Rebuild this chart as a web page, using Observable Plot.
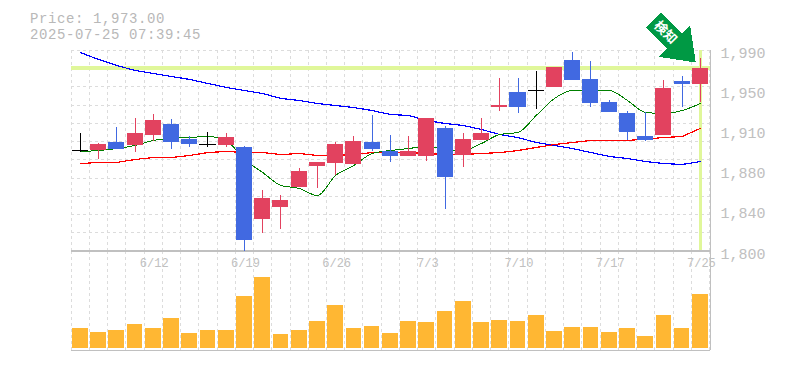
<!DOCTYPE html>
<html>
<head>
<meta charset="utf-8">
<script src="https://cdn.jsdelivr.net/npm/d3@7"></script>
<script src="https://cdn.jsdelivr.net/npm/@observablehq/plot@0.6"></script>
<style>
  html,body{margin:0;padding:0;background:#fff;}
  #chart{position:relative;width:785px;height:370px;overflow:hidden;}
  #chart svg{position:absolute;left:0;top:0;shape-rendering:crispEdges;}
  #chart svg text{shape-rendering:auto;}
  .hd{position:absolute;left:30px;font:14px/16px "Liberation Mono",monospace;letter-spacing:.6px;color:#b8b8b8;white-space:pre;}
  g[aria-label="date label"] text{letter-spacing:-1.2px;}
</style>
</head>
<body>
<div id="chart">
  <div class="hd" style="top:11px">Price: 1,973.00</div>
  <div class="hd" style="top:27px">2025-07-25 07:39:45</div>
</div>
<script>
const dates = ["6/6","6/9","6/10","6/11","6/12","6/13","6/16","6/17","6/18","6/19","6/20","6/23","6/24","6/25","6/26","6/27","6/30","7/1","7/2","7/3","7/4","7/7","7/8","7/9","7/10","7/11","7/14","7/15","7/16","7/17","7/18","7/22","7/23","7/24","7/25"];
const open  = [1895,1895,1903,1900,1910,1920,1906,1901,1900,1898,1830,1841,1860,1880,1883,1882,1903,1894,1890,1890,1916,1891,1905,1936,1950,1952,1955,1980.5,1963,1941,1930,1909,1910,1961,1958];
const close = [1895,1901,1896,1911,1924,1903,1901,1901,1908,1810,1850,1848,1875,1884,1901,1904,1896,1890,1894,1926,1870,1906,1911,1938,1936,1952,1974,1962,1940,1931,1912,1905,1954,1958,1973];
const high  = [1911,1902,1917,1926,1929,1925,1909,1912,1911,1899,1857,1853,1878,1884,1903,1909,1928,1910,1909,1926,1918,1911,1926,1963.5,1963.5,1970,1974,1988,1980,1943,1932,1931,1962,1965,1982];
const low   = [1893,1887,1896,1893,1904,1896,1898,1898,1898,1800,1817,1821,1860,1859,1872,1882,1894,1884,1890,1885,1839.5,1879,1905,1932,1930,1934,1955,1962,1936,1931,1905,1904,1910,1936,1941];
const maShort = [1894.4,1895.3,1897.2,1900.1,1904.8,1906.7,1907.6,1908.6,1904.8,1886.8,1874.5,1862.2,1859.4,1852.7,1871.7,1881.1,1892.5,1895.3,1897.2,1899.1,1896.3,1895.3,1902,1910.5,1912.4,1928.5,1944.6,1952.1,1952.1,1952.1,1942.7,1931.3,1930.4,1933.2,1939.8];
const maMid   = [1883,1884,1884,1886.8,1888.7,1888.7,1890.6,1893.4,1894.4,1893.4,1893.4,1891.5,1892.5,1890.6,1890.6,1891.5,1893.4,1893.4,1893.4,1892.5,1891.5,1891.5,1892.5,1893.4,1895.3,1898.2,1901,1902.9,1904.8,1904.8,1904.8,1906.2,1907.6,1908.6,1916.2];
const maLong  = [1988.1,1981.5,1975.8,1971.1,1968.2,1965.4,1962.6,1958.8,1955,1952.1,1949.3,1944.6,1942.7,1939.8,1937.9,1936,1933.2,1929.4,1928.5,1923.7,1920.9,1919,1915.2,1910.5,1907.6,1902.9,1900.1,1897.2,1893.4,1889.7,1887.8,1884.9,1883,1882.1,1884.9];
const volume  = [20,16,18,24,20,30,15,18,18,52,71,14,18,27,43,20,22,15,27,26,37,47,26,28,27,33,17,21,21,16,20,12,33,20,54];
const priceTicks = [1800,1838,1876,1914,1952,1990];
const priceTickLabels = ["1,800","1,840","1,880","1,910","1,950","1,990"];
const priceGrid = [1800,1817.3,1834.5,1851.8,1869.1,1886.4,1903.6,1920.9,1938.2,1955.5,1972.7,1990];
const dateLabels = ["6/12","6/19","6/26","7/3","7/10","7/17","7/25"];
const lastPrice = 1973;
const signalText = "検知";

const UP = "#e2425f", DOWN = "#4169e1", DOJI = "#000000";
const AXIS = "#c0c0c0", GRID = "#dcdcdc", HILITE = "#e0f79a", ARROW = "#009944";
const MONO = '"Liberation Mono", monospace';
const CJK = '"Noto Sans CJK JP", sans-serif';

const candles = dates.map((d,i)=>({d,i,open:open[i],close:close[i],high:high[i],low:low[i],vol:volume[i]}));
const colorOf = c => c.close>c.open ? UP : c.close<c.open ? DOWN : DOJI;
const slots = d3.range(dates.length+1);
const last = candles[candles.length-1];
const xScale = {type:"linear",domain:[0,dates.length],range:[70.7,709]};
const arrowShape = {draw(ctx,l){
  const s=l/60;
  ctx.moveTo(-10.5*s,0);ctx.lineTo(10.5*s,0);ctx.lineTo(10.5*s,-30*s);ctx.lineTo(22*s,-30*s);
  ctx.lineTo(0,-l);ctx.lineTo(-22*s,-30*s);ctx.lineTo(-10.5*s,-30*s);ctx.closePath();
}};

const volPlot = Plot.plot({
  width:785,height:370,margin:0,
  style:{background:"transparent"},
  x:{...xScale,axis:null},
  y:{type:"linear",domain:[0,71],range:[348,277],axis:null},
  marks:[
    Plot.ruleX(slots,{x:d=>d,y1:-2,y2:98,stroke:GRID,strokeDasharray:"3,3",strokeWidth:1}),
    Plot.rect(candles,{x1:d=>d.i+.07,x2:d=>d.i+.93,y1:0,y2:"vol",fill:"#ffb733"}),
    Plot.ruleY([-2],{x1:0,x2:dates.length+.05,stroke:AXIS,strokeWidth:1.5}),
    Plot.ruleX([dates.length+.05],{y1:-2,y2:98,stroke:AXIS,strokeWidth:1})
  ]
});

const pricePlot = Plot.plot({
  width:785,height:370,margin:0,
  style:{background:"transparent"},
  x:{...xScale,axis:null},
  y:{type:"linear",domain:[1800,1990],range:[250.7,50],axis:null},
  marks:[
    Plot.ruleX(slots,{x:d=>d,y1:1800,y2:1990,stroke:GRID,strokeDasharray:"3,3",strokeWidth:1}),
    Plot.ruleY(priceGrid,{x1:0,x2:dates.length,stroke:GRID,strokeDasharray:"3,3",strokeWidth:1}),
    Plot.ruleY([1800],{x1:0,x2:dates.length+.05,stroke:AXIS,strokeWidth:1.5}),
    Plot.ruleX([dates.length+.05],{y1:1800,y2:1990,stroke:AXIS,strokeWidth:1}),
    Plot.ruleY([lastPrice],{x1:0,x2:dates.length+.05,stroke:HILITE,strokeWidth:4}),
    Plot.ruleX([last],{x:d=>d.i+.5,y1:1801,y2:1990,stroke:HILITE,strokeWidth:3}),
    Plot.line(candles,{x:d=>d.i+.5,y:(d,i)=>maLong[i],stroke:"#0000ff",strokeWidth:1.2,curve:"linear"}),
    Plot.line(candles,{x:d=>d.i+.5,y:(d,i)=>maMid[i],stroke:"#ff0000",strokeWidth:1.2,curve:"linear"}),
    Plot.line(candles,{x:d=>d.i+.5,y:(d,i)=>maShort[i],stroke:"#008000",strokeWidth:1,curve:"monotone-x"}),
    Plot.ruleX(candles,{x:d=>d.i+.5,y1:"low",y2:"high",stroke:colorOf,strokeWidth:1}),
    Plot.rect(candles.filter(c=>c.open!==c.close),{x1:d=>d.i+.06,x2:d=>d.i+.94,y1:"open",y2:"close",fill:colorOf}),
    Plot.ruleY(candles.filter(c=>c.open===c.close),{y:"close",x1:d=>d.i+.06,x2:d=>d.i+.94,stroke:DOJI,strokeWidth:1}),
    Plot.text(priceTicks,{y:d=>d,x:()=>dates.length,text:(d,i)=>priceTickLabels[i],textAnchor:"start",dx:11,dy:2.5,fontFamily:MONO,fontSize:15,fill:AXIS}),
    Plot.text(dateLabels,{ariaLabel:"date label",x:d=>dates.indexOf(d)+.5,y:()=>1800,text:d=>d,dy:11.5,dx:1,fontFamily:MONO,fontSize:12,fill:AXIS}),
    Plot.vector([last],{x:()=>34.25,y:()=>1978.6,length:60,rotate:135,anchor:"end",shape:arrowShape,fill:ARROW,stroke:"none"}),
    Plot.text([signalText],{x:()=>32.58,y:()=>2007,text:d=>d,rotate:45,fontFamily:CJK,fontWeight:"bold",fontSize:13,fill:"#ffffff"})
  ]
});

const chart = document.getElementById("chart");
chart.prepend(pricePlot);
chart.prepend(volPlot);
</script>
</body>
</html>
